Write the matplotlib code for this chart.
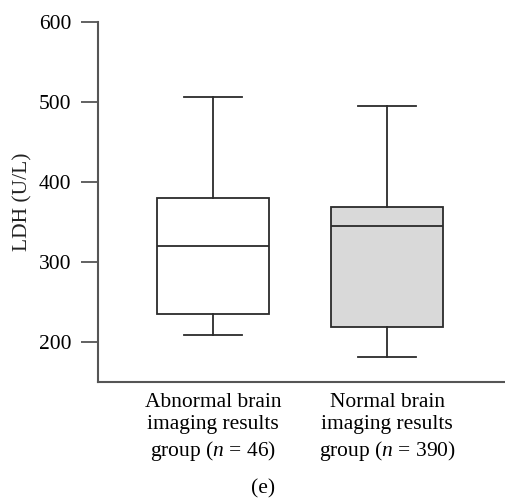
import matplotlib
matplotlib.use("Agg")
import matplotlib.pyplot as plt

# LDH (U/L) box summaries
groups = [
    "Abnormal brain\nimaging results\ngroup ($n$ = 46)",
    "Normal brain\nimaging results\ngroup ($n$ = 390)",
]
whisker_low = [209, 181]
q1 = [235, 218]
median = [320, 345]
q3 = [380, 369]
whisker_high = [506, 495]
fills = ["white", "#d9d9d9"]

plt.rcParams["font.family"] = ["Liberation Serif", "DejaVu Serif"]
plt.rcParams["mathtext.fontset"] = "custom"
plt.rcParams["mathtext.rm"] = "Liberation Serif"
plt.rcParams["mathtext.it"] = "Liberation Serif:italic"

line_c = "#2b2b2b"
spine_c = "#555555"
lw = 1.3

fig = plt.figure(figsize=(5.06, 5.0), dpi=100)
ax = fig.add_axes([0.193, 0.2366, 0.807, 0.7194])

stats = []
for i in range(len(groups)):
    stats.append({
        "whislo": whisker_low[i], "q1": q1[i], "med": median[i],
        "q3": q3[i], "whishi": whisker_high[i], "fliers": [],
    })

bp = ax.bxp(stats, positions=[1, 2], widths=0.644, patch_artist=True,
            showfliers=False,
            boxprops=dict(edgecolor=line_c, linewidth=lw),
            medianprops=dict(color=line_c, linewidth=lw),
            whiskerprops=dict(color=line_c, linewidth=lw),
            capprops=dict(color=line_c, linewidth=lw),
            capwidths=0.333)
for patch, c in zip(bp["boxes"], fills):
    patch.set_facecolor(c)

ax.set_xlim(0.336, 2.682)
ax.set_ylim(150, 600)
ax.set_yticks([200, 300, 400, 500, 600])
ax.set_xticks([1, 2])
ax.set_xticklabels(groups, fontsize=15.5, linespacing=1.25)
ax.tick_params(axis="y", length=12, width=1.3, color=spine_c, labelsize=15.5, pad=7)
ax.tick_params(axis="x", length=0, pad=8)

for s in ["top", "right"]:
    ax.spines[s].set_visible(False)
for s in ["left", "bottom"]:
    ax.spines[s].set_color(spine_c)
    ax.spines[s].set_linewidth(1.5)

ax.set_ylabel("LDH (U/L)", fontsize=15.5, color="#222222")
ax.yaxis.set_label_coords(-0.16, 0.5)

fig.text(0.52, 0.004, "(e)", fontsize=15.5, ha="center", va="bottom")

fig.savefig("out.png", dpi=100)
